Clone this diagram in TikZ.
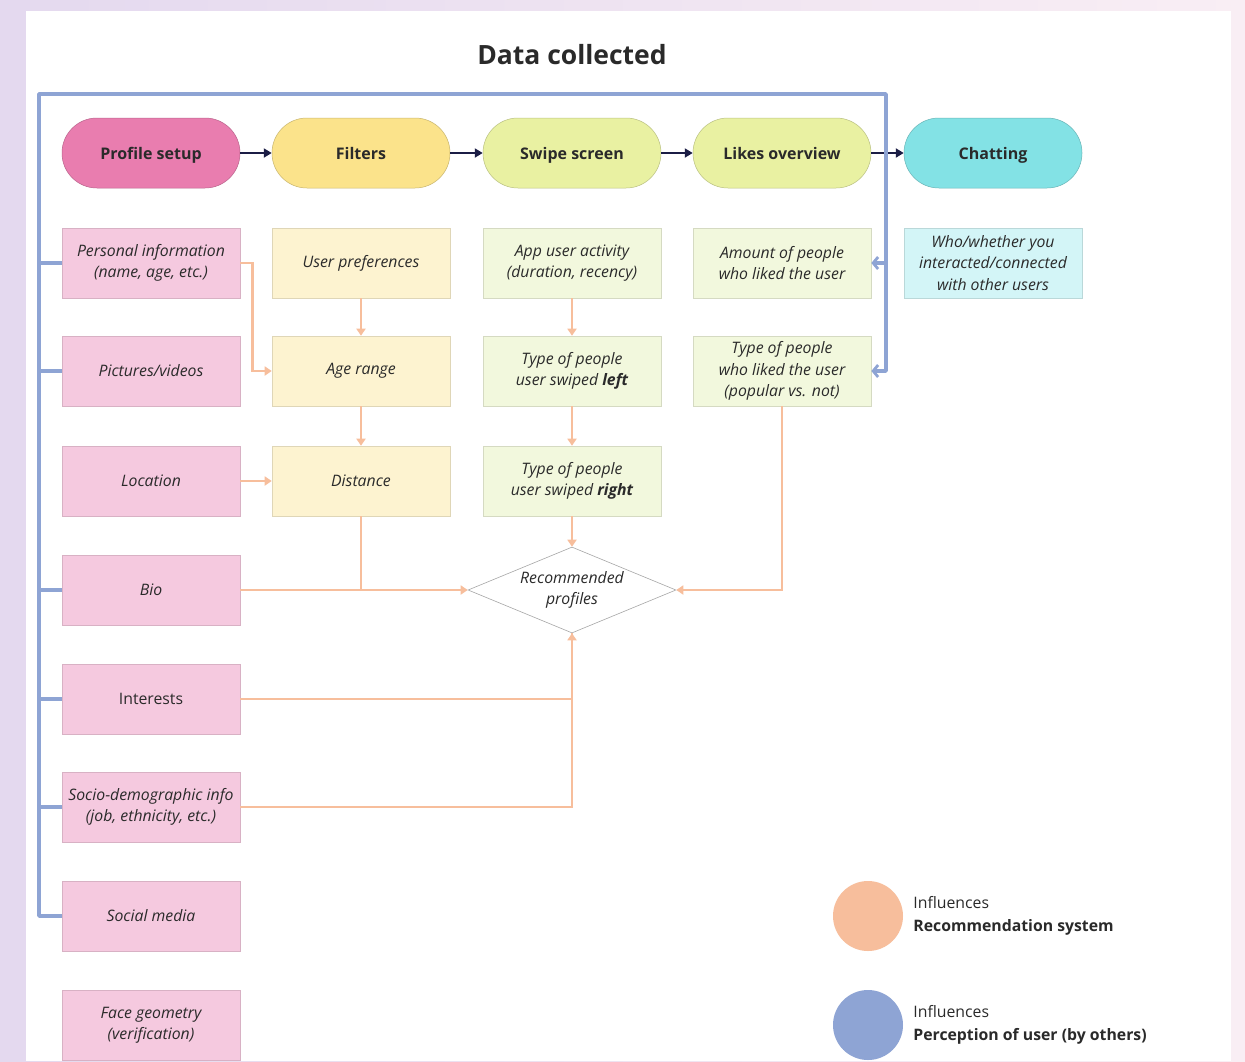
\documentclass[tikz,border=0pt]{standalone}
\usepackage{fontspec}
\setmainfont{Open Sans}
\usetikzlibrary{arrows.meta,shapes.geometric,calc}

\definecolor{bgL}{HTML}{E4D9EF}
\definecolor{bgR}{HTML}{F9EEF4}
\definecolor{pinkD}{HTML}{E97DAF}
\definecolor{pinkL}{HTML}{F5C9DF}
\definecolor{yelD}{HTML}{FBE38B}
\definecolor{yelL}{HTML}{FDF3D0}
\definecolor{limeD}{HTML}{E9F1A2}
\definecolor{limeL}{HTML}{F2F8DD}
\definecolor{cyanD}{HTML}{83E2E5}
\definecolor{cyanL}{HTML}{D3F5F7}
\definecolor{peach}{HTML}{F7BE9C}
\definecolor{blueln}{HTML}{8EA4D4}
\definecolor{navy}{HTML}{1B1D45}
\definecolor{txt}{HTML}{2A2A2A}

\tikzset{
  pill/.style={rectangle, rounded corners=34.9pt, minimum width=178pt, minimum height=70pt,
    inner sep=0pt, fill=#1, draw=#1!80!black, line width=0.5pt, text=txt,
    text height=12pt, text depth=0pt,
    font=\bfseries\fontsize{16}{20}\selectfont},
  card/.style={rectangle, minimum width=178pt, minimum height=70pt, inner sep=0pt,
    fill=#1, draw=#1!88!black, line width=0.6pt, text=txt, align=center,
    font=\itshape\fontsize{15.8}{21.5}\selectfont},
  flow/.style={draw=navy, line width=2pt, -{Triangle[length=8pt,width=9pt]}},
  feed/.style={draw=peach, line width=2.6pt, -{Triangle[length=7pt,width=9pt]}},
  feedline/.style={draw=peach, line width=2.6pt},
  frame/.style={draw=blueln, line width=3.4pt, line join=round},
  framearrow/.style={frame, -{Straight Barb[length=5pt,width=12pt,line width=2.8pt]}},
}

\begin{document}
\begin{tikzpicture}[x=1pt,y=-1pt]
\useasboundingbox (0,0) rectangle (1245,1061);
% textured backdrop and white sheet
\fill[left color=bgL, right color=bgR] (0,0) rectangle (1245,1061);
\fill[white] (26,11) rectangle (1231,1061);

\node[text=txt, font=\bfseries\fontsize{26.5}{30}\selectfont] (title) at (572,55) {Data collected};

% stages
\node[pill=pinkD] (ps) at (151,153) {Profile setup};
\node[pill=yelD]  (fi) at (361,153) {Filters};
\node[pill=limeD] (sw) at (572,153) {Swipe screen};
\node[pill=limeD] (lo) at (782,153) {Likes overview};
\node[pill=cyanD] (ch) at (993,153) {Chatting};

\draw[flow] (ps) -- (fi);
\draw[flow] (fi) -- (sw);
\draw[flow] (sw) -- (lo);
\draw[flow] (lo) -- (ch);

% profile setup data
\node[card=pinkL] (pinf) at (151,263) {Personal information\\(name, age, etc.)};
\node[card=pinkL] (pic)  at (151,371) {Pictures/videos};
\node[card=pinkL] (loc)  at (151,481) {Location};
\node[card=pinkL] (bio)  at (151,590) {Bio};
\node[card=pinkL, font=\fontsize{15.8}{21.5}\selectfont] (int) at (151,699) {Interests};
\node[card=pinkL] (soc)  at (151,807) {Socio-demographic info\\(job, ethnicity, etc.)};
\node[card=pinkL] (sm)   at (151,916) {Social media};
\node[card=pinkL] (face) at (151,1025) {Face geometry\\(verification)};

% filters data
\node[card=yelL] (up)  at (361,263) {User preferences};
\node[card=yelL] (ar)  at (361,371) {Age range};
\node[card=yelL] (dis) at (361,481) {Distance};

% swipe screen data
\node[card=limeL] (ua) at (572,263) {App user activity\\(duration, recency)};
\node[card=limeL] (sl) at (572,371) {Type of people\\user swiped \textbf{left}};
\node[card=limeL] (sr) at (572,481) {Type of people\\user swiped \textbf{right}};

% likes overview data
\node[card=limeL] (am) at (782,263) {Amount of people\\who liked the user};
\node[card=limeL] (tl) at (782,371) {Type of people\\who liked the user\\(popular vs. not)};

% chatting data
\node[card=cyanL] (wh) at (993,263) {Who/whether you\\interacted/connected\\with other users};

% recommendation hub
\node[diamond, aspect=2.42, minimum width=208pt, minimum height=86pt, inner sep=0pt,
  draw=black!35, line width=0.6pt, fill=white, text=txt, align=center,
  font=\itshape\fontsize{15.8}{21.5}\selectfont] (rec) at (572,590) {Recommended\\profiles};

% inputs to the recommendation system
\draw[feed] (up) -- (ar);
\draw[feed] (ar) -- (dis);
\draw[feed] (pinf.east) -- ++(12,0) |- (ar.west);
\draw[feed] (loc) -- (dis);
\draw[feedline] (dis.south) -- (dis.south |- bio.east);
\draw[feed] (bio.east) -- (rec.west);
\draw[feed] (ua) -- (sl);
\draw[feed] (sl) -- (sr);
\draw[feed] (sr.south) -- (rec.north);
\draw[feed] (tl.south) |- (rec.east);
\draw[feedline] (soc.east) -| (rec.south);
\draw[feed] (int.east) -| (rec.south);

% perception of the user by others
\coordinate (fTL) at (39,94);
\coordinate (fTR) at (886,94);
\draw[framearrow] (sm.west) -| (fTL) -- (fTR) |- (tl.east);
\draw[framearrow] (fTR |- am.east) -- (am.east);
\foreach \n in {pinf,pic,bio,int,soc}
  \draw[frame] (fTL |- \n.west) -- (\n.west);

% legend
\node[circle, fill=peach, minimum size=70pt, inner sep=0pt] (lg1) at (868,916) {};
\node[circle, fill=blueln, minimum size=70pt, inner sep=0pt] (lg2) at (868,1025) {};
\node[anchor=west, align=left, text=txt, inner sep=0pt, xshift=10pt,
  font=\fontsize{15.8}{22.5}\selectfont] (lt1) at (lg1.east)
  {Influences\\\textbf{Recommendation system}};
\node[anchor=west, align=left, text=txt, inner sep=0pt, xshift=10pt,
  font=\fontsize{15.8}{22.5}\selectfont] (lt2) at (lg2.east)
  {Influences\\\textbf{Perception of user (by others)}};
\end{tikzpicture}
\end{document}
